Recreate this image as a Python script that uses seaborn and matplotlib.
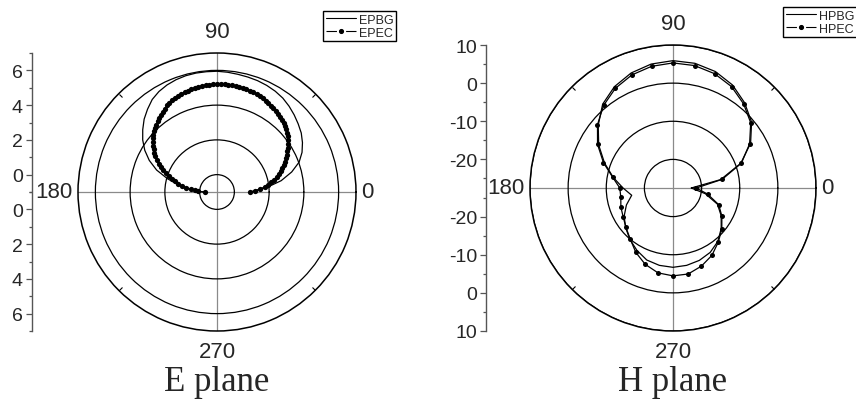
import numpy as np
import pandas as pd
import seaborn as sns
import matplotlib
matplotlib.use("Agg")
import matplotlib.pyplot as plt
from matplotlib.lines import Line2D

sns.set_style("white")
plt.rcParams['font.family'] = ['Liberation Sans', 'DejaVu Sans']

# ---- E plane (0..180 deg) ----
e_ang_ec = np.arange(0, 181, 2)
epec = [0.90, 1.20, 1.49, 1.75, 1.97, 2.17, 2.37, 2.56, 2.71, 2.86,
        3.00, 3.14, 3.28, 3.41, 3.55, 3.68, 3.82, 3.95, 4.08, 4.19,
        4.29, 4.38, 4.47, 4.55, 4.61, 4.67, 4.72, 4.76, 4.81, 4.86,
        4.91, 4.96, 5.00, 5.04, 5.07, 5.10, 5.13, 5.15, 5.17, 5.19,
        5.20, 5.21, 5.22, 5.22, 5.22, 5.22, 5.21, 5.20, 5.19, 5.17,
        5.15, 5.13, 5.10, 5.07, 5.04, 5.01, 4.97, 4.93, 4.88, 4.83,
        4.76, 4.66, 4.57, 4.48, 4.39, 4.31, 4.22, 4.12, 4.02, 3.92,
        3.81, 3.68, 3.54, 3.40, 3.26, 3.11, 2.93, 2.74, 2.54, 2.34,
        2.12, 1.90, 1.70, 1.51, 1.30, 1.06, 0.81, 0.52, 0.28, 0.10,
        -0.31]
e_ang_bg = np.arange(0, 181, 5)
epbg = [0.95, 1.85, 2.75, 3.45, 4.03, 4.40, 4.68, 4.92, 5.10, 5.28,
        5.45, 5.60, 5.70, 5.77, 5.82, 5.85, 5.88, 5.92, 5.95, 5.95,
        5.95, 5.93, 5.88, 5.80, 5.68, 5.50, 5.22, 4.93, 4.58, 4.22,
        3.80, 3.30, 2.70, 1.95, 1.20, 0.50, -0.20]

# ---- H plane (0..350 deg) ----
h_ang = np.arange(0, 360, 10)
hpbg = [-22.7, -14.8, -8.6, -4.0, -0.6, 1.7, 3.7, 5.0, 5.7, 5.9,
        5.5, 4.6, 3.2, 1.2, -1.9, -5.0, -8.4, -11.6, -14.4, -16.5,
        -14.5, -12.7, -11.3, -9.9, -8.6, -7.4, -6.9, -6.7, -6.9, -7.3,
        -8.0, -9.2, -11.0, -12.9, -15.1, -18.9]
hpec = [-21.4, -14.4, -8.4, -4.3, -0.9, 1.3, 3.2, 4.4, 5.1, 5.3,
        4.9, 4.05, 2.7, 0.8, -1.65, -4.65, -8.1, -11.45, -13.55, -13.6,
        -12.95, -12.4, -11.4, -10.04, -8.0, -6.2, -4.9, -4.46, -4.6, -5.7,
        -7.1, -9.0, -10.8, -12.7, -14.75, -18.3]

W, H = 856, 410
fig = plt.figure(figsize=(W / 100, H / 100), dpi=100)


def rect_px(cx, cy, r):
    return [(cx - r) / W, (H - cy - r) / H, 2 * r / W, 2 * r / H]


def polar_panel(rect, rmin, rmax, rings):
    ax = fig.add_axes(rect, projection='polar')
    ax.set_theta_zero_location('E')
    ax.set_ylim(rmin, rmax)
    ax.set_yticks(rings)
    ax.set_yticklabels([])
    ax.set_xticks(np.radians([0, 90, 180, 270]))
    ax.set_xticklabels([])
    ax.set_xticks(np.radians([45, 135, 225, 315]), minor=True)
    ax.grid(True, axis='y', color='black', lw=0.9)
    ax.grid(True, axis='x', color='#8a8a8a', lw=0.9)
    ax.tick_params(axis='x', which='both', bottom=False, top=True)
    ax.tick_params(axis='x', which='minor', direction='in', length=3, width=0.8, color='k')
    ax.tick_params(axis='x', which='major', length=0)
    ax.tick_params(axis='y', left=False, right=False)
    ax.spines['polar'].set_color('black')
    ax.spines['polar'].set_linewidth(1.1)
    ax.set_facecolor('white')
    labs = [(0, '0', 'left', 'center', (4, 0)),
            (90, '90', 'center', 'bottom', (0, 8)),
            (180, '180', 'right', 'center', (-4, 0)),
            (270, '270', 'center', 'top', (0, -7))]
    for deg, txt, ha, va, off in labs:
        ax.annotate(txt, xy=(np.radians(deg), rmax), xytext=off,
                    textcoords='offset points', ha=ha, va=va, fontsize=16,
                    annotation_clip=False)
    return ax


def radial_axis(xpx, rect, rmin, rmax, majors, minors, fs):
    span = rmax - rmin
    rax = fig.add_axes([xpx / W, rect[1], 1e-4, rect[3]])
    rax.set_ylim(-span, span)
    rax.set_xticks([])
    for s in ['top', 'right', 'bottom']:
        rax.spines[s].set_visible(False)
    rax.spines['left'].set_color('#555555')
    rax.spines['left'].set_linewidth(1.0)
    pos = [v - rmin for v in majors]
    rax.set_yticks([-p for p in pos] + pos)
    rax.set_yticklabels([str(v) for v in majors] * 2, fontsize=fs)
    mpos = [v - rmin for v in minors]
    rax.set_yticks([-p for p in mpos] + mpos, minor=True)
    rax.tick_params(axis='y', which='both', left=True, right=False)
    rax.tick_params(axis='y', which='major', direction='out', length=4.5, width=0.9,
                    color='#555555', pad=2)
    rax.tick_params(axis='y', which='minor', direction='out', length=2.5, width=0.9,
                    color='#555555')
    rax.patch.set_alpha(0)


def ec_handle():
    # dash lengths are scaled by the line width (0.8)
    return Line2D([], [], color='k', lw=0.8, ls=(0, (9.4, 8.25)), marker='o', ms=2.7,
                  markerfacecolor='k', markeredgecolor='k')


# ---- E plane panel ----
rE = rect_px(217, 193, 139)
axE = polar_panel(rE, -1, 7, [0, 2, 4, 6])
dfe_bg = pd.DataFrame({'theta': np.radians(e_ang_bg), 'r': epbg})
dfe_ec = pd.DataFrame({'theta': np.radians(e_ang_ec), 'r': epec})
sns.lineplot(data=dfe_bg, x='theta', y='r', ax=axE, color='k', lw=0.9,
             sort=False, estimator=None, legend=False)
sns.lineplot(data=dfe_ec, x='theta', y='r', ax=axE, color='k', lw=0.9,
             marker='o', markersize=3.8, markerfacecolor='k', markeredgecolor='k',
             markeredgewidth=0, sort=False, estimator=None, legend=False)
axE.set_xlabel('')
axE.set_ylabel('')
radial_axis(32, rE, -1, 7, [0, 2, 4, 6], [-1, 1, 3, 5, 7], 14)

fig.legend([Line2D([], [], color='k', lw=0.8), ec_handle()], ['EPBG', 'EPEC'],
           loc='upper left', bbox_to_anchor=(323 / W, 1 - 12 / H), fontsize=9,
           frameon=True, fancybox=False, edgecolor='black', framealpha=1,
           borderpad=0.2, labelspacing=0.1, handlelength=2.4, handletextpad=0.3,
           borderaxespad=0)

# ---- H plane panel ----
rH = rect_px(673, 189, 143)
axH = polar_panel(rH, -27.5, 10, [-20, -10, 0, 10])
th = np.radians(np.append(h_ang, h_ang[0]))
dfh_bg = pd.DataFrame({'theta': th, 'r': np.append(hpbg, hpbg[0])})
dfh_ec = pd.DataFrame({'theta': th, 'r': np.append(hpec, hpec[0])})
sns.lineplot(data=dfh_bg, x='theta', y='r', ax=axH, color='k', lw=0.9,
             sort=False, estimator=None, legend=False)
sns.lineplot(data=dfh_ec, x='theta', y='r', ax=axH, color='k', lw=0.9,
             marker='o', markersize=3.6, markerfacecolor='k', markeredgecolor='k',
             markeredgewidth=0, sort=False, estimator=None, legend=False)
axH.set_xlabel('')
axH.set_ylabel('')
radial_axis(486, rH, -27.5, 10, [-20, -10, 0, 10], [-25, -15, -5, 5], 14)

fig.legend([Line2D([], [], color='k', lw=0.8), ec_handle()], ['HPBG', 'HPEC'],
           loc='upper left', bbox_to_anchor=(783 / W, 1 - 8 / H), fontsize=9,
           frameon=True, fancybox=False, edgecolor='black', framealpha=1,
           borderpad=0.2, labelspacing=0.1, handlelength=2.4, handletextpad=0.3,
           borderaxespad=0)

# captions
fig.text(217 / W, 1 - 391 / H, 'E plane', ha='center', va='baseline',
         family='Liberation Serif', fontsize=25)
fig.text(673 / W, 1 - 391 / H, 'H plane', ha='center', va='baseline',
         family='Liberation Serif', fontsize=25)

fig.savefig('out.png', dpi=100)
